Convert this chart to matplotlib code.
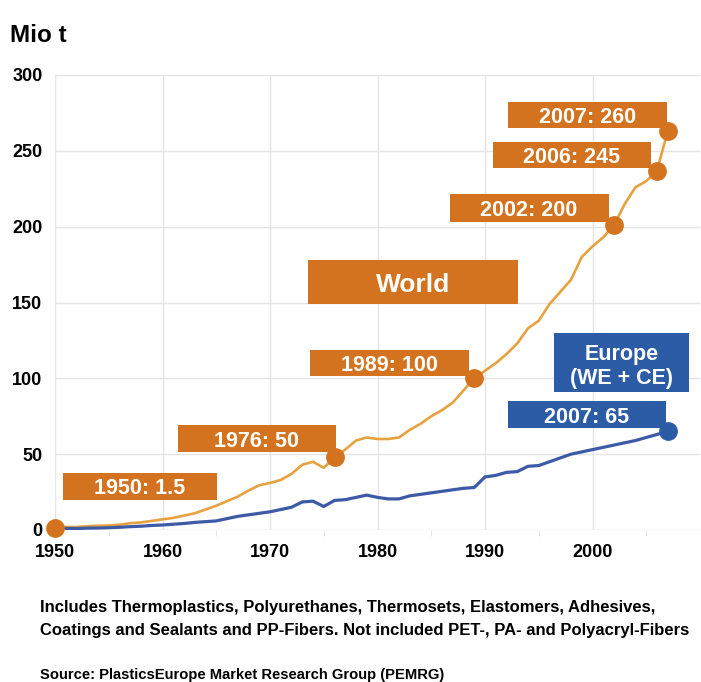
import numpy as np
import matplotlib.pyplot as plt
from matplotlib.patches import Rectangle

plt.rcParams['font.family'] = ['Liberation Sans', 'DejaVu Sans']
plt.rcParams['font.weight'] = 'bold'

years = list(range(1950, 2008))
world = [1.5, 2, 2, 2.5, 2.8, 3, 3.5, 4.5, 5, 6,
         7, 8, 9.5, 11, 13.5, 16, 19, 22, 26, 29.5,
         31, 33, 37, 43, 45, 41, 48, 53, 59, 61,
         60, 60, 61, 66, 70, 75, 79, 84, 92, 100,
         105, 110, 116, 123, 133, 138, 149, 157, 165, 180,
         187, 193, 201, 215, 226, 230, 237, 263]
europe = [1, 1, 1, 1.2, 1.3, 1.5, 1.8, 2.2, 2.5, 3,
          3.3, 3.8, 4.3, 5, 5.5, 6, 7.5, 9, 10, 11,
          12, 13.5, 15, 18.5, 19, 15.5, 19.5, 20, 21.5, 23,
          21.5, 20.5, 20.5, 22.5, 23.5, 24.5, 25.5, 26.5, 27.5, 28,
          35, 36, 38, 38.5, 42, 42.5, 45, 47.5, 50, 51.5,
          53, 54.5, 56, 57.5, 59, 61, 63, 65]

world_mark_years = [1950, 1976, 1989, 2002, 2006, 2007]
world_mark_labels = ['1950: 1.5', '1976: 50', '1989: 100', '2002: 200', '2006: 245', '2007: 260']
europe_mark_years = [2007]
europe_mark_labels = ['2007: 65']

orange_line = '#E6A23E'
orange = '#D4731F'
blue_line = '#3D5AA6'
blue = '#2D5CA6'

fig = plt.figure(figsize=(7.01, 6.82), dpi=100)
ax = fig.add_axes([55/701, 1 - 530/682, 645/701, 455/682])

ax.plot(years, world, color=orange_line, lw=1.9, zorder=3)
ax.plot(years, europe, color=blue_line, lw=2.3, zorder=3)

wy = [world[years.index(y)] for y in world_mark_years]
ax.plot(world_mark_years, wy, 'o', color=orange, ms=12.5, zorder=5, clip_on=False)
ey = [europe[years.index(y)] for y in europe_mark_years]
ax.plot(europe_mark_years, ey, 'o', color=blue, ms=12.5, zorder=5, clip_on=False)

# label boxes (x0, x1, y0, y1) in data units
box_pos = [(1950.7, 1965.1, 20, 37.5),
           (1961.4, 1976.1, 51.5, 69),
           (1973.7, 1988.5, 101.5, 119),
           (1986.7, 2001.5, 203, 221.5),
           (1990.7, 2005.4, 239, 256),
           (1992.1, 2006.9, 265, 282)]

def box(x0, x1, y0, y1, txt, col, size=15.5):
    ax.add_patch(Rectangle((x0, y0), x1 - x0, y1 - y0, color=col, zorder=4, lw=0))
    ax.text((x0 + x1) / 2, (y0 + y1) / 2, txt, color='white', fontsize=size,
            fontweight='bold', ha='center', va='center_baseline', zorder=6)

for (x0, x1, y0, y1), t in zip(box_pos, world_mark_labels):
    box(x0, x1, y0, y1, t, orange)
box(1992.1, 2006.8, 67, 85, europe_mark_labels[0], blue)
box(1973.5, 1993.1, 149, 178, 'World', orange, size=19)
box(1996.4, 2009.0, 91, 130, 'Europe\n(WE + CE)', blue)

ax.set_xlim(1950, 2010)
ax.set_ylim(0, 300)
ax.set_xticks(range(1950, 2001, 10))
ax.set_xticks(range(1955, 2010, 5), minor=True)
ax.set_yticks(range(0, 301, 50))
ax.grid(True, color='#e4e4e4', lw=1, zorder=0)
for s in ax.spines.values():
    s.set_visible(False)
ax.tick_params(axis='both', which='major', length=0, labelsize=13)
ax.tick_params(axis='x', which='major', pad=10)
ax.tick_params(axis='y', which='major', pad=9)
ax.tick_params(axis='x', which='minor', length=4, color='#e4e4e4')
for lab in ax.get_xticklabels() + ax.get_yticklabels():
    lab.set_fontweight('bold')

fig.text(10/701, 1 - 42/682, 'Mio t', fontsize=17.5, fontweight='bold', ha='left', va='baseline')
fig.text(40/701, 1 - 612/682, 'Includes Thermoplastics, Polyurethanes, Thermosets, Elastomers, Adhesives,',
         fontsize=12, fontweight='bold', ha='left', va='baseline')
fig.text(40/701, 1 - 635/682, 'Coatings and Sealants and PP-Fibers. Not included PET-, PA- and Polyacryl-Fibers',
         fontsize=12, fontweight='bold', ha='left', va='baseline')
fig.text(40/701, 1 - 679/682, 'Source: PlasticsEurope Market Research Group (PEMRG)',
         fontsize=10.6, fontweight='bold', ha='left', va='baseline')

fig.savefig('out.png', dpi=100)
